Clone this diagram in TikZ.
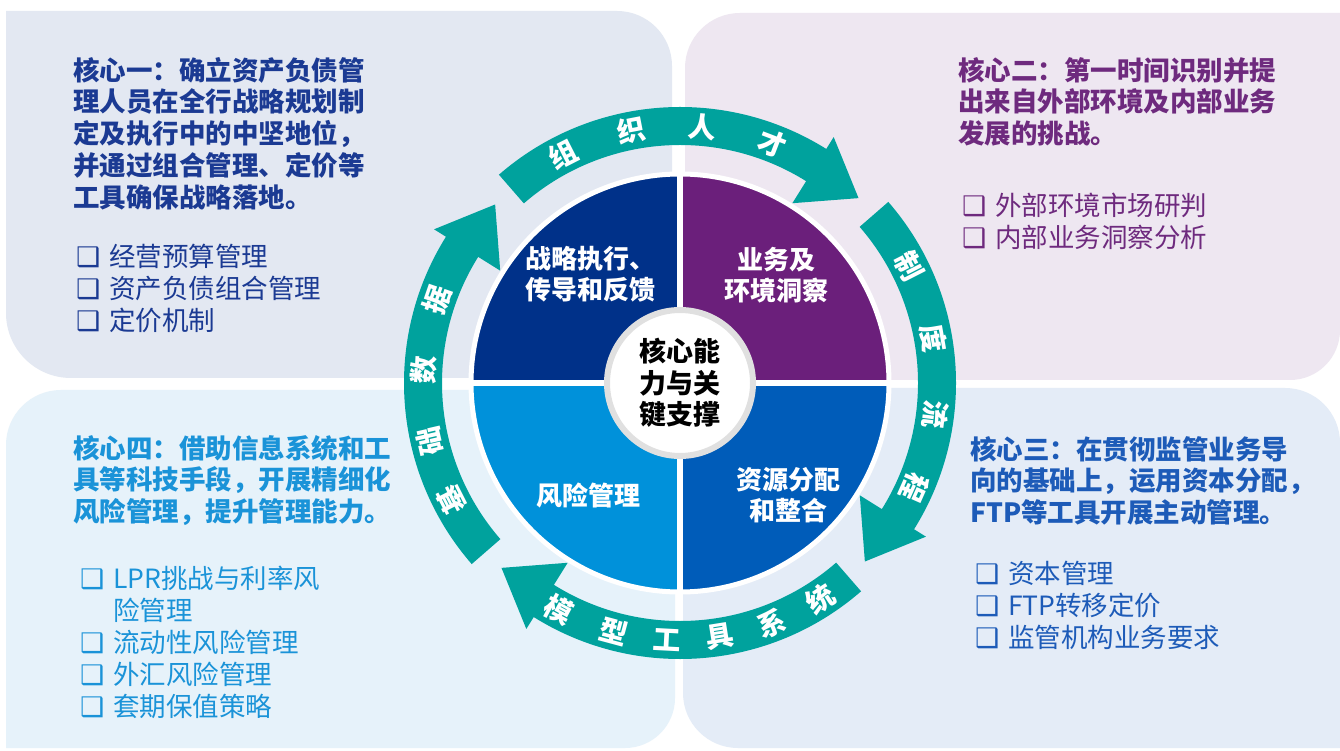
\documentclass[tikz,border=0pt]{standalone}
\usepackage{fontspec}
\setmainfont{Noto Sans CJK SC}
\newfontfamily\boxfont{DejaVu Sans}
\usetikzlibrary{positioning}
\definecolor{cteal}{HTML}{00A29D}
\definecolor{cnavy}{HTML}{003189}
\definecolor{cpurple}{HTML}{6B1F7B}
\definecolor{csky}{HTML}{0091DA}
\definecolor{croyal}{HTML}{005CB9}
\definecolor{bgone}{HTML}{E3E8F2}
\definecolor{bgtwo}{HTML}{EEE7F1}
\definecolor{bgthree}{HTML}{E4ECF7}
\definecolor{bgfour}{HTML}{E6F2FA}
\definecolor{txone}{HTML}{1B3A93}
\definecolor{txtwo}{HTML}{6E2A7E}
\definecolor{txthree}{HTML}{1D5BB8}
\definecolor{txfour}{HTML}{1A93D8}
\newcommand{\sq}{\makebox[33pt][l]{\boxfont\bfseries\fontsize{27}{27}\selectfont ❑}}

\begin{document}
\begin{tikzpicture}[x=1pt,y=1pt,
  head/.style={anchor=north west,inner sep=0pt,align=left,
               font=\fontsize{26.5}{31.7}\selectfont\bfseries},
  items/.style={anchor=north west,inner sep=0pt,align=left,
                font=\fontsize{26.5}{32}\selectfont},
  quad/.style={inner sep=0pt,align=center,text=white,
               font=\fontsize{26}{31}\selectfont\bfseries},
  ringtxt/.style={inner sep=0pt,text=white,font=\fontsize{28}{28}\selectfont\bfseries},
  ringfill/.style={fill=cteal},
  sep/.style={draw=white,line width=6pt}]

\useasboundingbox (0,0) rectangle (1340,750);
\fill[white] (0,0) rectangle (1340,750);

% ---------------- background panels ----------------
\fill[bgone] (6,739) -- (617,739) arc[start angle=90,end angle=0,radius=55pt]
  -- (672,372) -- (71,372) arc[start angle=270,end angle=180,radius=65pt] -- cycle;
\fill[bgtwo] (740,737) -- (1340,737) -- (1340,420)
  arc[start angle=0,end angle=-90,radius=50pt] -- (685,370) -- (685,682)
  arc[start angle=180,end angle=90,radius=55pt] -- cycle;
\fill[bgthree] (683,307) arc[start angle=180,end angle=90,radius=55pt]
  -- (1285,362) arc[start angle=90,end angle=0,radius=55pt] -- (1340,2)
  -- (738,2) arc[start angle=270,end angle=180,radius=55pt] -- cycle;
\fill[bgfour] (6,2) -- (6,305) arc[start angle=180,end angle=90,radius=55pt]
  -- (675,360) -- (675,52) arc[start angle=0,end angle=-90,radius=50pt] -- cycle;

% ---------------- texts of the four cores ----------------
\node[head,txone] (h1) at (73,693)
  {核心一：确立资产负债管\\理人员在全行战略规划制\\定及执行中的中坚地位，\\并通过组合管理、定价等\\工具确保战略落地。};
\node[items,txone] (l1) at (76,506)
  {\sq 经营预算管理\\\sq 资产负债组合管理\\\sq 定价机制};

\node[head,txtwo] (h2) at (958,693)
  {核心二：第一时间识别并提\\出来自外部环境及内部业务\\发展的挑战。};
\node[items,txtwo] (l2) at (962,557)
  {\sq 外部环境市场研判\\\sq 内部业务洞察分析};

\node[head,txthree] (h3) at (970,314)
  {核心三：在贯彻监管业务导\\向的基础上，运用资本分配，\\FTP等工具开展主动管理。};
\node[items,txthree] (l3) at (975,189)
  {\sq 资本管理\\\sq FTP转移定价\\\sq 监管机构业务要求};

\node[head,txfour] (h4) at (73,315)
  {核心四：借助信息系统和工\\具等科技手段，开展精细化\\风险管理，提升管理能力。};
\node[items,txfour] (l4) at (80,184)
  {\sq LPR挑战与利率风\\\hspace*{33pt}险管理\\\sq 流动性风险管理\\\sq 外汇风险管理\\\sq 套期保值策略};

% ---------------- the wheel ----------------
\begin{scope}[shift={(680,367)}]
\fill[cnavy]   (0,0) -- (90:207) arc[start angle=90,end angle=180,radius=207pt] -- cycle;
\fill[cpurple] (0,0) -- (0:207) arc[start angle=0,end angle=90,radius=207pt] -- cycle;
\fill[csky]    (0,0) -- (180:207) arc[start angle=180,end angle=270,radius=207pt] -- cycle;
\fill[croyal]  (0,0) -- (270:207) arc[start angle=270,end angle=360,radius=207pt] -- cycle;
\draw[sep] (-212,0) -- (212,0);
\draw[sep] (0,-212) -- (0,212);
\draw[draw=white,line width=5pt] (0,0) circle[radius=209pt];

\node[quad] (qa) at (-90,109) {战略执行、\\传导和反馈};
\node[quad] (qb) at (96,108) {业务及\\环境洞察};
\node[quad] (qc) at (-92,-113) {风险管理};
\node[quad] (qd) at (108,-112) {资源分配\\和整合};

\node[circle,fill=white,draw=black!12,line width=6pt,minimum size=146pt,
      inner sep=0pt,align=center,font=\fontsize{27}{31.5}\selectfont\bfseries]
  (core) at (0,0) {核心能\\力与关\\键支撑};

% ring of four arrows
\foreach \a in {131,41,-49,-139}
  \fill[ringfill] (\a:276) arc[start angle=\a,end angle=\a-73,radius=276pt]
    -- (\a-73:290) -- (\a-85:257) -- (\a-73:212) -- (\a-73:238)
    arc[start angle=\a-73,end angle=\a,radius=238pt] -- cycle;

\foreach \ch/\ang [count=\i] in {组/117,织/101,人/85,才/69}
  \node[ringtxt,rotate=\ang-90] (top\i) at (\ang:257) {\ch};
\foreach \ch/\ang [count=\i] in {制/27,度/10,流/-7,程/-24}
  \node[ringtxt,rotate=\ang-90] (rgt\i) at (\ang:257) {\ch};
\foreach \ch/\ang [count=\i] in {模/-118,型/-105,工/-93,具/-81,系/-69,统/-57}
  \node[ringtxt,rotate=\ang+90] (bot\i) at (\ang:257) {\ch};
\foreach \ch/\ang [count=\i] in {基/207,础/193,数/177,据/161}
  \node[ringtxt,rotate=\ang-90] (lft\i) at (\ang:257) {\ch};
\end{scope}
\end{tikzpicture}
\end{document}
